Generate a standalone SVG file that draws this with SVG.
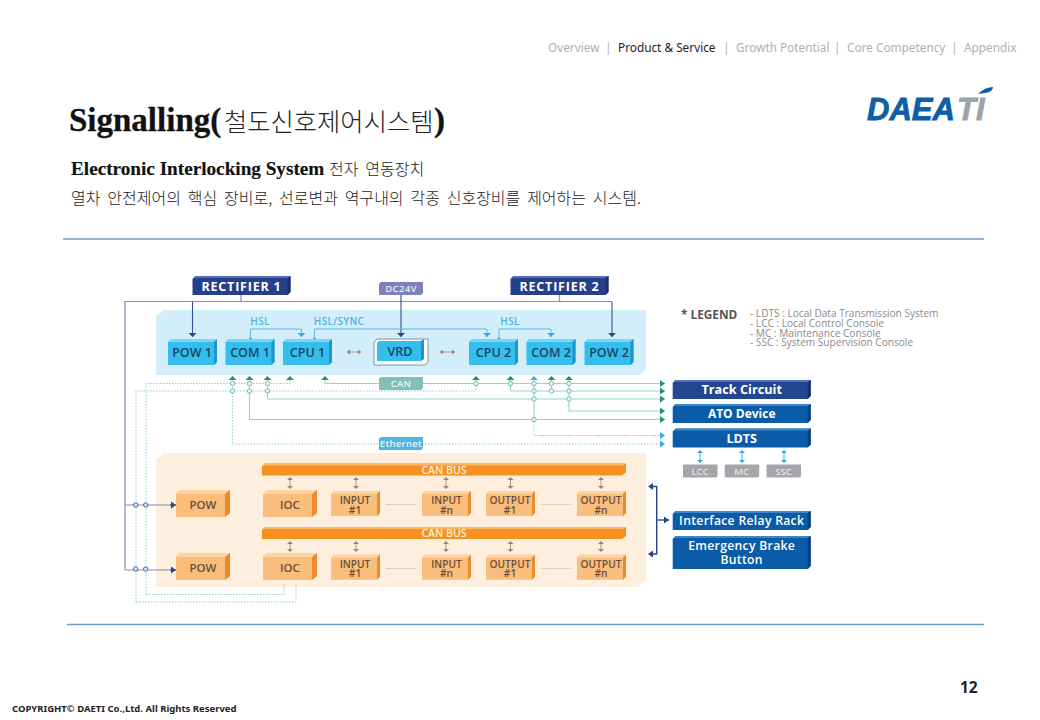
<svg xmlns="http://www.w3.org/2000/svg" width="1040" height="720" viewBox="0 0 1040 720">
<style>
text{font-family:"Open Sans","Noto Sans CJK KR",sans-serif}
.nav{font-family:"Noto Sans","Noto Sans CJK KR",sans-serif;font-size:11.8px;fill:#b0b0b0}
.ko{font-family:"Noto Sans CJK KR",sans-serif;fill:#222;font-weight:300}
.ser{font-family:"Liberation Serif","Noto Sans CJK KR",serif;font-weight:700;fill:#111;stroke:#111;stroke-width:.3}
.c{text-anchor:middle}
.bl{font-size:12.5px;font-weight:600;fill:#17466a;text-anchor:middle}
.or{font-size:10.2px;font-weight:600;fill:#6a5038;text-anchor:middle}
.orb{font-size:11.5px;font-weight:600;fill:#6a5038;text-anchor:middle}
.wh{font-weight:700;fill:#fff;text-anchor:middle}
.sm{font-size:9.5px;font-weight:600;fill:#e8f8f6;text-anchor:middle;letter-spacing:.3px}
.hs{font-size:10px;font-weight:600;fill:#4fb3e0;text-anchor:middle;letter-spacing:.3px}
.leg{font-size:10.1px;fill:#8a8a8a}
.pw{fill:none;stroke:#7f8fb0;stroke-width:1.2}
.nv{fill:none;stroke:#33508f;stroke-width:1.1}
.hl{fill:none;stroke:#5fb9e2;stroke-width:1}
.t{fill:none;stroke:#93d3d0;stroke-width:1.1}
.d{fill:none;stroke:#93d3d0;stroke-width:1.1;stroke-dasharray:1.6 1.4}
.db{fill:none;stroke:#7dcbe8;stroke-width:1;stroke-dasharray:1.4 1.4}
.br{fill:none;stroke:#b59281;stroke-width:1}
.cy{fill:none;stroke:#39a9d8;stroke-width:1}
.o{fill:#e8f7f6;stroke:#6fbcb6;stroke-width:1}
.ob{fill:#dfe6f2;stroke:#4a67a0;stroke-width:1}
</style>
<defs>
<marker id="mN" markerUnits="userSpaceOnUse" markerWidth="5" markerHeight="9" refX="4" refY="4.5" orient="auto"><path d="M0 .5L4 4.5L0 8.500Z" fill="#2b4488"/></marker>
<marker id="mL" markerUnits="userSpaceOnUse" markerWidth="5" markerHeight="9" refX="4" refY="4.500" orient="auto"><path d="M0 .5L4 4.5L0 8.500Z" fill="#3fa9dc"/></marker>
<marker id="mR" markerUnits="userSpaceOnUse" markerWidth="6" markerHeight="8" refX="5" refY="4" orient="auto"><path d="M0 .5L5 4L0 7.500Z" fill="#1f8f80"/></marker>
<marker id="mC" markerUnits="userSpaceOnUse" markerWidth="6" markerHeight="8" refX="5" refY="4" orient="auto"><path d="M0 .5L5 4L0 7.500Z" fill="#2fb0e0"/></marker>
<marker id="mB" markerUnits="userSpaceOnUse" markerWidth="4" markerHeight="6" refX="3" refY="3" orient="auto-start-reverse"><path d="M0 .5L3 3L0 5.500Z" fill="#a77f6e"/></marker>
<marker id="mV" markerUnits="userSpaceOnUse" markerWidth="6" markerHeight="8" refX="5" refY="4" orient="auto-start-reverse"><path d="M0 .5L5 4L0 7.500Z" fill="#2b4488"/></marker>
<g id="bbox"><path d="M3 0H49V23L46 26H0V3Z" fill="#35bdee"/><path d="M3 0H49L46 3H0Z" fill="#7ad6f5"/><path d="M49 0V23L46 26V3Z" fill="#1d95cc"/></g>
<g id="obig"><path d="M4 0H54V23L49 27H0V4Z" fill="#f9bd7c"/><path d="M4 0H54L49 4H0Z" fill="#fbd3a5"/><path d="M54 0V23L49 27V4Z" fill="#ef8a2a"/></g>
<g id="osm"><path d="M3 0H49V22L46 25H0V3Z" fill="#f9bd7c"/><path d="M3 0H49L46 3H0Z" fill="#fbd3a5"/><path d="M49 0V22L46 25V3Z" fill="#ef8a2a"/></g>
<g id="bar"><path d="M3 0H364V9L360 12H0V3Z" fill="#f5921f"/><path d="M3 0H364L361 2H1Z" fill="#fbb565"/></g>
<g id="wide"><path d="M3 0H138V16L135 19H0V3Z" fill="#0b5ca8"/><path d="M3 0H138L136 2H1Z" fill="#3f86c8"/><path d="M138 0V16L135 19V2Z" fill="#083f7d"/></g>
<g id="wnavy"><path d="M3 0H138V16L135 19H0V3Z" fill="#23478f"/><path d="M3 0H138L136 2H1Z" fill="#5470ad"/><path d="M138 0V16L135 19V2Z" fill="#16306b"/></g>
<g id="rect"><path d="M3 0H98V16L95 19H0V3Z" fill="#26408c"/><path d="M3 0H98L96 2H1Z" fill="#5670b0"/><path d="M98 0V16L95 19V2Z" fill="#1a2f6d"/></g>
<g id="gbox"><path d="M1 0H34.500V12L33 13H0V1Z" fill="#a3a5a8"/></g>
</defs>
<rect width="1040" height="720" fill="#fff"/>

<g id="header">
<text class="nav" x="548" y="52">Overview</text><text class="nav" x="605" y="52">|</text>
<text class="nav" x="618" y="52" style="fill:#222">Product &amp; Service</text><text class="nav" x="723" y="52">|</text>
<text class="nav" x="736" y="52">Growth Potential</text><text class="nav" x="834" y="52">|</text>
<text class="nav" x="847" y="52">Core Competency</text><text class="nav" x="951" y="52">|</text>
<text class="nav" x="964" y="52">Appendix</text>
</g>
<g id="logo">
<text x="867" y="120" style="font-family:'Liberation Sans',sans-serif;font-weight:700;font-style:italic;font-size:31px;fill:#0d5fa8;stroke:#0d5fa8;stroke-width:.8">DAEA</text>
<text x="957" y="120" style="font-family:'Liberation Sans',sans-serif;font-weight:700;font-style:italic;font-size:31px;fill:#9ea3a8;stroke:#9ea3a8;stroke-width:.8">TI</text>
<path d="M978 94Q985 87 993 87Q993 92 985 93Z" fill="#0d5fa8"/>
</g>
<g id="title">
<text class="ser" x="69" y="131" style="font-size:33px">Signalling(</text>
<text class="ko" x="224" y="131" style="font-size:25.300px">철도신호제어시스템</text>
<text class="ser" x="434" y="131" style="font-size:33px">)</text>
<text class="ser" x="71" y="175" style="font-size:19.200px;stroke-width:.15">Electronic Interlocking System</text>
<text class="ko" x="329" y="175" style="font-size:16px;word-spacing:3.300px">전자 연동장치</text>
<text class="ko" x="71" y="204" style="font-size:16px;word-spacing:3.300px">열차 안전제어의 핵심 장비로, 선로변과 역구내의 각종 신호장비를 제어하는 시스템.</text>
</g>
<g id="rules" stroke="#6f9cc4" stroke-width="1.5">
<line x1="63" y1="239" x2="984" y2="239"/><line x1="67" y1="624.500" x2="984" y2="624.500"/>
</g>

<g id="panels">
<path d="M164 310H646V369L640 375H156V316Z" fill="#d3eefb"/>
<path d="M164 453H646V581L638 587H156V460Z" fill="#fdeedd"/>
</g>

<g id="connectors">
<path class="pw" d="M241 295V301.500M559.500 295V301.500M125 570V301.500H612"/>
<path class="nv" d="M192.500 301.500V337" marker-end="url(#mN)"/>
<path class="nv" d="M401 295V337" marker-end="url(#mN)"/>
<path class="nv" d="M612 301.500V337" marker-end="url(#mN)"/>
<path class="hl" d="M250.500 337V329H301.500V337" marker-start="url(#mL)" marker-end="url(#mL)"/>
<path class="hl" d="M314.500 337V329H487V337" marker-start="url(#mL)" marker-end="url(#mL)"/>
<path class="hl" d="M499 337V329H551V337" marker-start="url(#mL)" marker-end="url(#mL)"/>
<path class="br" d="M347 352H361" marker-start="url(#mB)" marker-end="url(#mB)"/>
<path class="br" d="M440 352H455" marker-start="url(#mB)" marker-end="url(#mB)"/>

<path class="d" d="M146 594.500V383.500H290V378"/>
<path class="d" d="M136 602V391H476V378"/>
<path class="d" d="M146 594.500H284V584M136 602H296V584"/>
<path class="d" d="M232.500 378V444H379"/>
<path class="d" d="M422 444H665" marker-end="url(#mC)"/>
<path class="db" d="M534 419V435.500H665" marker-end="url(#mC)"/>
<path class="t" d="M325 378V383.500H379"/>
<path class="t" d="M423 383.500H665" marker-end="url(#mR)"/>
<path class="t" d="M510.500 378V391H665" marker-end="url(#mR)"/>
<path class="t" d="M267.500 378V399H665" marker-end="url(#mR)"/>
<path class="t" d="M249.500 378V419.500H665" marker-end="url(#mR)"/>
<path class="t" d="M569 378V411H665" marker-end="url(#mR)"/>
<path class="t" d="M534 378V419.500M551.500 378V391"/>
<path fill="#1f8f80" d="M228.500 380L232.500 376L236.500 380ZM245.500 380L249.500 376L253.500 380ZM263.500 380L267.500 376L271.500 380ZM286 380L290 376L294 380ZM321 380L325 376L329 380ZM472 380L476 376L480 380ZM506.500 380L510.500 376L514.500 380ZM547.500 380L551.500 376L555.500 380ZM565 380L569 376L573 380Z"/>
<path fill="#3fb2dc" d="M530 380L534 376L538 380Z"/>
<g>
<circle class="o" cx="232.500" cy="383.500" r="2.200"/><circle class="o" cx="249.500" cy="383.500" r="2.200"/><circle class="o" cx="267.500" cy="383.500" r="2.200"/>
<circle class="o" cx="232.500" cy="391" r="2.200"/><circle class="o" cx="249.500" cy="391" r="2.200"/><circle class="o" cx="267.500" cy="391" r="2.200"/>
<circle class="o" cx="476" cy="383.500" r="2.200"/><circle class="o" cx="510.500" cy="383.500" r="2.200"/><circle class="o" cx="534" cy="383.500" r="2.200"/><circle class="o" cx="551.500" cy="383.500" r="2.200"/><circle class="o" cx="569" cy="383.500" r="2.200"/>
<circle class="o" cx="534" cy="391" r="2.200"/><circle class="o" cx="551.500" cy="391" r="2.200"/><circle class="o" cx="569" cy="391" r="2.200"/>
<circle class="o" cx="534" cy="399" r="2.200"/><circle class="o" cx="569" cy="399" r="2.200"/><circle class="o" cx="534" cy="419.500" r="2.200"/>
</g>
<path class="pw" d="M125 505H172"/>
<path class="pw" d="M125 570H172"/>
<path class="nv" d="M170 505H176" marker-end="url(#mV)"/>
<path class="nv" d="M170 570H176" marker-end="url(#mV)"/>
<circle class="ob" cx="135.700" cy="505" r="2.200"/><circle class="ob" cx="145.700" cy="505" r="2.200"/>
<circle class="ob" cx="135.700" cy="569" r="2.200"/><circle class="ob" cx="145.700" cy="569" r="2.200"/>
<path class="br" d="M290 478V488M356 478V488M446 478V488M510.500 478V488M601 478V488M290 542V551M356 542V551M446 542V551M510.500 542V551M601 542V551"/>
<path fill="#a77f6e" d="M287 480L290 477L293 480ZM287 486L290 489L293 486ZM353 480L356 477L359 480ZM353 486L356 489L359 486ZM443 480L446 477L449 480ZM443 486L446 489L449 486ZM507.500 480L510.500 477L513.500 480ZM507.500 486L510.500 489L513.500 486ZM598 480L601 477L604 480ZM598 486L601 489L604 486ZM287 544L290 541L293 544ZM287 549L290 552L293 549ZM353 544L356 541L359 544ZM353 549L356 552L359 549ZM443 544L446 541L449 544ZM443 549L446 552L449 549ZM507.500 544L510.500 541L513.500 544ZM507.500 549L510.500 552L513.500 549ZM598 544L601 541L604 544ZM598 549L601 552L604 549Z"/>
<path stroke="#d8cfc5" stroke-width="1" fill="none" d="M386 504.500H416M541 504.500H571M386 568.500H416M541 568.500H571"/>
<path fill="none" stroke="#2b4488" stroke-width="1.400" d="M652 486.500H656.700V554H652"/>
<path fill="#2b4488" d="M648 486.500L653 483V490ZM648 554L653 550.500V557.500Z"/>
<path class="nv" d="M657 520H669" marker-end="url(#mV)" style="stroke-width:1.400"/>
<path class="cy" d="M700 452V461M742 452V461M784 452V461" />
<path fill="#2fa8d8" d="M697 453L700 450L703 453ZM697 460L700 463L703 460ZM739 453L742 450L745 453ZM739 460L742 463L745 460ZM781 453L784 450L787 453ZM781 460L784 463L787 460Z"/>
</g>

<g id="rectifier1" transform="translate(192.500,276)"><use href="#rect"/><text class="wh" x="49" y="14.500" style="font-size:12.500px;letter-spacing:.8px">RECTIFIER 1</text></g>
<g id="rectifier2" transform="translate(510.500,276)"><use href="#rect"/><text class="wh" x="49" y="14.500" style="font-size:12.500px;letter-spacing:.8px">RECTIFIER 2</text></g>
<g id="dc24v"><path d="M381 282H423V293L421 295H379V284Z" fill="#7d82bc"/><text class="sm" x="401" y="292" style="fill:#e8e8f5">DC24V</text></g>
<g id="can"><path d="M381 377H423V388L421 390H379V379Z" fill="#85beb6"/><text class="sm" x="401" y="386.500">CAN</text></g>
<g id="ethernet"><path d="M381 437H423V448L421 450H379V439Z" fill="#4fb4e4"/><text class="sm" x="401" y="447">Ethernet</text></g>
<g id="hsl-labels"><text class="hs" x="260" y="325">HSL</text><text class="hs" x="339" y="325">HSL/SYNC</text><text class="hs" x="510" y="325">HSL</text></g>

<g id="pow1" transform="translate(168,339)"><use href="#bbox"/><text class="bl" x="24" y="17.500">POW 1</text></g>
<g id="com1" transform="translate(225.500,339)"><use href="#bbox"/><text class="bl" x="24.500" y="17.500">COM 1</text></g>
<g id="cpu1" transform="translate(283,339)"><use href="#bbox"/><text class="bl" x="24.500" y="17.500">CPU 1</text></g>
<g id="vrd"><path d="M377 339H428V362L425 365H374V342Z" fill="#fff" stroke="#7b93a8" stroke-width="1"/><path d="M379 341H421V361H377V343Z" fill="#35bdee"/><path d="M421 341L424 339V359L421 361Z" fill="#1d95cc"/><text class="bl" x="400" y="356">VRD</text></g>
<g id="cpu2" transform="translate(469,339)"><use href="#bbox"/><text class="bl" x="24.500" y="17.500">CPU 2</text></g>
<g id="com2" transform="translate(526.500,339)"><use href="#bbox"/><text class="bl" x="24.500" y="17.500">COM 2</text></g>
<g id="pow2" transform="translate(584.500,339)"><use href="#bbox"/><text class="bl" x="24.500" y="17.500">POW 2</text></g>

<g id="legend">
<text x="681" y="319" style="font-size:11.800px;font-weight:700;fill:#555">* LEGEND</text>
<text class="leg" x="750" y="317">- LDTS : Local Data Transmission System</text>
<text class="leg" x="750" y="327">- LCC : Local Control Console</text>
<text class="leg" x="750" y="336.500">- MC : Maintenance Console</text>
<text class="leg" x="750" y="346">- SSC  : System Supervision Console</text>
</g>

<g id="track-circuit" transform="translate(672.700,380)"><use href="#wnavy"/><text class="wh" x="69" y="14" style="font-size:12.700px">Track Circuit</text></g>
<g id="ato-device" transform="translate(672.700,404)"><use href="#wide"/><text class="wh" x="69" y="14" style="font-size:12px">ATO Device</text></g>
<g id="ldts" transform="translate(672.700,428.500)"><use href="#wide"/><text class="wh" x="69" y="14" style="font-size:12.500px">LDTS</text></g>
<g id="lcc" transform="translate(683,464.500)"><use href="#gbox"/><text class="c" x="17" y="10" style="font-size:9.500px;font-weight:600;fill:#e4e4e4">LCC</text></g>
<g id="mc" transform="translate(724.700,464.500)"><use href="#gbox"/><text class="c" x="17" y="10" style="font-size:9.500px;font-weight:600;fill:#e4e4e4">MC</text></g>
<g id="ssc" transform="translate(766.500,464.500)"><use href="#gbox"/><text class="c" x="17" y="10" style="font-size:9.500px;font-weight:600;fill:#e4e4e4">SSC</text></g>

<g id="can-bus-1" transform="translate(262,463.500)"><use href="#bar"/><text class="c" x="182" y="10" style="font-size:10.500px;font-weight:600;fill:#fdeedd">CAN BUS</text></g>
<g id="can-bus-2" transform="translate(262,527)"><use href="#bar"/><text class="c" x="182" y="10" style="font-size:10.500px;font-weight:600;fill:#fdeedd">CAN BUS</text></g>

<g id="pow-a" transform="translate(176,490)"><use href="#obig"/><text class="orb" x="27" y="19">POW</text></g>
<g id="ioc-a" transform="translate(263,490)"><use href="#obig"/><text class="orb" x="27" y="19">IOC</text></g>
<g id="input1-a" transform="translate(331,491)"><use href="#osm"/><text class="or" x="24" y="13">INPUT</text><text class="or" x="24" y="22.500">#1</text></g>
<g id="inputn-a" transform="translate(422,491)"><use href="#osm"/><text class="or" x="24.500" y="13">INPUT</text><text class="or" x="24.500" y="22.500">#n</text></g>
<g id="output1-a" transform="translate(486,491)"><use href="#osm"/><text class="or" x="24" y="13">OUTPUT</text><text class="or" x="24" y="22.500">#1</text></g>
<g id="outputn-a" transform="translate(577,491)"><use href="#osm"/><text class="or" x="24" y="13">OUTPUT</text><text class="or" x="24" y="22.500">#n</text></g>
<g id="pow-b" transform="translate(176,553)"><use href="#obig"/><text class="orb" x="27" y="19">POW</text></g>
<g id="ioc-b" transform="translate(263,553)"><use href="#obig"/><text class="orb" x="27" y="19">IOC</text></g>
<g id="input1-b" transform="translate(331,554.700)"><use href="#osm"/><text class="or" x="24" y="13">INPUT</text><text class="or" x="24" y="22.500">#1</text></g>
<g id="inputn-b" transform="translate(422,554.700)"><use href="#osm"/><text class="or" x="24.500" y="13">INPUT</text><text class="or" x="24.500" y="22.500">#n</text></g>
<g id="output1-b" transform="translate(486,554.700)"><use href="#osm"/><text class="or" x="24" y="13">OUTPUT</text><text class="or" x="24" y="22.500">#1</text></g>
<g id="outputn-b" transform="translate(577,554.700)"><use href="#osm"/><text class="or" x="24" y="13">OUTPUT</text><text class="or" x="24" y="22.500">#n</text></g>

<g id="interface-relay-rack" transform="translate(672.700,511)"><use href="#wide"/><text class="c" x="69" y="14" style="font-size:12.200px;font-weight:600;fill:#fff;letter-spacing:.3px">Interface Relay Rack</text></g>
<g id="emergency-brake"><path d="M675.700 536H810.700V566L807.700 569H672.700V539Z" fill="#0b5ca8"/><path d="M675.700 536H810.700L808.700 538H673.700Z" fill="#3f86c8"/><path d="M810.700 536V566L807.700 569V538Z" fill="#083f7d"/><text class="c" x="741.700" y="550" style="font-size:12.200px;font-weight:600;fill:#fff;letter-spacing:.3px">Emergency Brake</text><text class="c" x="741.700" y="564" style="font-size:12.200px;font-weight:600;fill:#fff;letter-spacing:.3px">Button</text></g>

<g id="footer">
<text x="960" y="693" style="font-family:'Open Sans',sans-serif;font-size:15.500px;font-weight:700;fill:#222">12</text>
<text x="12" y="712" style="font-family:'Noto Sans',sans-serif;font-size:9.500px;font-weight:700;fill:#222">COPYRIGHT© DAETI Co.,Ltd. All Rights Reserved</text>
</g>
</svg>
